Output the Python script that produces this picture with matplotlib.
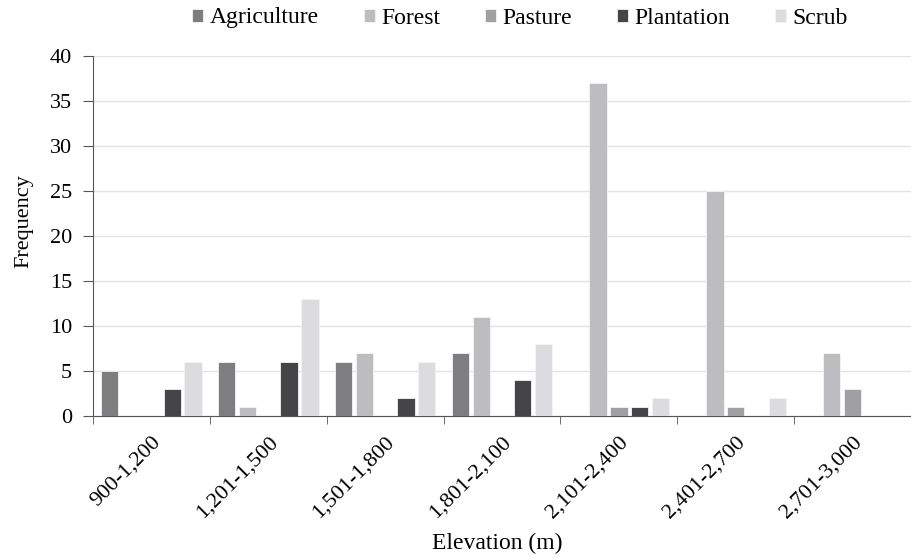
import numpy as np
import matplotlib
matplotlib.use('Agg')
import matplotlib.pyplot as plt

plt.rcParams['font.family'] = ['Liberation Serif', 'DejaVu Serif']

categories = ['900-1,200', '1,201-1,500', '1,501-1,800', '1,801-2,100',
              '2,101-2,400', '2,401-2,700', '2,701-3,000']
series_names = ['Agriculture', 'Forest', 'Pasture', 'Plantation', 'Scrub']
agriculture = [5, 6, 6, 7, 0, 0, 0]
forest = [0, 1, 7, 11, 37, 25, 7]
pasture = [0, 0, 0, 0, 1, 1, 3]
plantation = [3, 6, 2, 4, 1, 0, 0]
scrub = [6, 13, 6, 8, 2, 2, 0]
colors = ['#7e7e80', '#bdbdc0', '#a0a0a2', '#454547', '#dcdcde']

series = [agriculture, forest, pasture, plantation, scrub]

fig = plt.figure(figsize=(9.11, 5.58), dpi=100)
ax = fig.add_axes([93 / 911, 1 - 416 / 558, 818 / 911, 360 / 558])

x = np.arange(len(categories))
pitch = 0.178
width = 0.148
for i, (name, vals) in enumerate(zip(series_names, series)):
    ax.bar(x + (i - 2) * pitch, vals, width, color=colors[i], label=name,
           edgecolor='#f4f4f4', linewidth=0.6, zorder=3)

ax.set_ylim(0, 40)
ax.set_xlim(-0.5, -0.5 + 818 / 118)
ax.set_yticks(np.arange(0, 41, 5))
ax.yaxis.grid(True, color='#e2e2e2', linewidth=1, zorder=0)

ax.set_xticks(x)
ax.set_xticklabels(categories, rotation=45, ha='right', rotation_mode='anchor', fontsize=16)
ax.tick_params(axis='x', length=0, pad=12)
ax.set_xticks(np.arange(-0.5, 7, 1), minor=True)
ax.tick_params(axis='x', which='minor', length=6, direction='out', color='#555555')
ax.tick_params(axis='y', labelsize=16, length=7, color='#555555', pad=8)

for s in ['top', 'right']:
    ax.spines[s].set_visible(False)
ax.spines['left'].set_color('#555555')
ax.spines['bottom'].set_color('#555555')

ax.set_ylabel('Frequency', fontsize=16)
ax.yaxis.set_label_coords(-(93 - 33) / 818, (416 - 221) / 360)
ax.set_xlabel('Elevation (m)', fontsize=17)
ax.xaxis.set_label_coords((497 - 93) / 818, -(533 - 416) / 360)

ax.legend(loc='center', bbox_to_anchor=((520 - 93) / 818, 1 + (56 - 18) / 360), ncol=5,
          frameon=False, fontsize=17, handlelength=0.47, handleheight=0.47,
          columnspacing=1.9, handletextpad=0.27, borderpad=0)

plt.savefig('out.png', dpi=100)
